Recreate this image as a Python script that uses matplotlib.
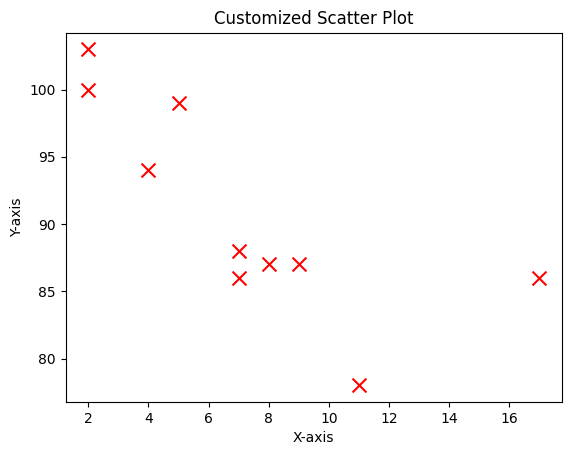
import matplotlib
matplotlib.use("Agg")
import matplotlib.pyplot as plt

x = [5, 7, 8, 7, 2, 17, 2, 9, 4, 11]
y = [99, 86, 87, 88, 100, 86, 103, 87, 94, 78]

fig = plt.figure(figsize=(5.71, 4.55), dpi=100)
ax = fig.add_axes([65.8/571, (455-402.2)/455, 496/571, 369.6/455])
ax.scatter(x, y, c='red', marker='x', s=100)
ax.set_title('Customized Scatter Plot')
ax.set_xlabel('X-axis')
ax.set_ylabel('Y-axis')
fig.savefig('out.png', dpi=100)
